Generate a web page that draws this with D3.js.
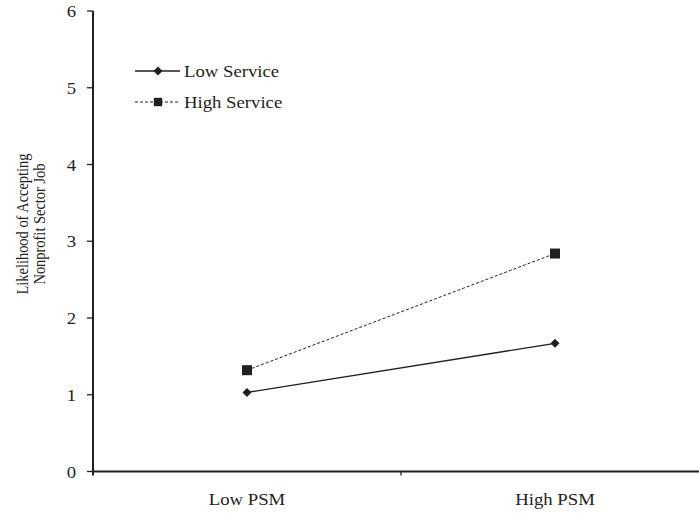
<!DOCTYPE html>
<html><head><meta charset="utf-8">
<script src="https://cdn.jsdelivr.net/npm/d3@7"></script>
<style>body{margin:0;background:#fff}</style>
</head><body>
<svg id="c" width="699" height="514"></svg>
<script>
const categories = ["Low PSM", "High PSM"];
const lowService = [1.03, 1.67];
const highService = [1.32, 2.84];
const yTicks = [0, 1, 2, 3, 4, 5, 6];
const seriesNames = ["Low Service", "High Service"];
const yLabelLines = ["Likelihood of Accepting", "Nonprofit Sector Job"];

const svg = d3.select("#c");
const font = "'Liberation Serif', 'Times New Roman', serif";
const col = "#231f20";
const fs = 17.5, sx = 1.07;
const x0 = 93, x1 = 709, yTop = 11, yBot = 471.5;
const x = d3.scaleBand().domain(categories).range([x0, x1]);
const y = d3.scaleLinear().domain([0, 6]).range([yBot, yTop]);

function htext(px, py, anchor, str) {
  return svg.append("text").attr("transform", `translate(${px},${py}) scale(${sx},1)`)
    .attr("text-anchor", anchor).attr("font-family", font).attr("font-size", fs)
    .attr("fill", col).text(str);
}

// y axis
svg.append("line").attr("x1", x0).attr("x2", x0).attr("y1", y(6)).attr("y2", y(0) + 4)
  .attr("stroke", col).attr("stroke-width", 2);
yTicks.forEach(t => {
  svg.append("line").attr("x1", x0 - 6).attr("x2", x0).attr("y1", y(t)).attr("y2", y(t))
    .attr("stroke", col).attr("stroke-width", 1.3);
  htext(76, y(t), "end", t).attr("dy", "0.35em");
});
// x axis
svg.append("line").attr("x1", x0).attr("x2", 699).attr("y1", y(0)).attr("y2", y(0))
  .attr("stroke", col).attr("stroke-width", 2);
svg.append("line").attr("x1", x(categories[1])).attr("x2", x(categories[1])).attr("y1", y(0)).attr("y2", y(0) + 4)
  .attr("stroke", col).attr("stroke-width", 1.3);
categories.forEach(c => htext(x(c) + x.bandwidth() / 2, 505, "middle", c));

// y label
const yl = svg.append("text").attr("transform", "translate(0,224) rotate(-90) scale(0.875,1)")
  .attr("text-anchor", "middle").attr("font-family", font).attr("font-size", 16.5).attr("fill", col);
yLabelLines.forEach((l, i) => yl.append("tspan").attr("x", 0).attr("y", 28 + i * 17.5).text(l));

const cx = c => x(c) + x.bandwidth() / 2;
const line = d3.line().x((d, i) => cx(categories[i])).y(d => y(d));
svg.append("path").datum(highService).attr("d", line).attr("fill", "none").attr("stroke", col)
  .attr("stroke-width", 1).attr("stroke-dasharray", "3,2");
svg.append("path").datum(lowService).attr("d", line).attr("fill", "none").attr("stroke", col)
  .attr("stroke-width", 1.3);
const diamond = d3.symbol().type(d3.symbolSquare).size(40);
const square = d3.symbol().type(d3.symbolSquare).size(100);
lowService.forEach((v, i) => svg.append("path").attr("d", diamond)
  .attr("transform", `translate(${cx(categories[i])},${y(v)}) rotate(45)`).attr("fill", col));
highService.forEach((v, i) => svg.append("path").attr("d", square)
  .attr("transform", `translate(${cx(categories[i])},${y(v)})`).attr("fill", col));

// legend
const legY = [71, 102];
svg.append("line").attr("x1", 135).attr("x2", 180).attr("y1", legY[0]).attr("y2", legY[0]).attr("stroke", col).attr("stroke-width", 1.3);
svg.append("path").attr("d", diamond).attr("transform", `translate(158,${legY[0]}) rotate(45)`).attr("fill", col);
svg.append("line").attr("x1", 135).attr("x2", 180).attr("y1", legY[1]).attr("y2", legY[1]).attr("stroke", col).attr("stroke-width", 1).attr("stroke-dasharray", "3,2");
svg.append("path").attr("d", d3.symbol().type(d3.symbolSquare).size(70)).attr("transform", `translate(158,${legY[1]})`).attr("fill", col);
seriesNames.forEach((n, i) => htext(184, legY[i], "start", n).attr("dy", "0.35em"));
</script>
</body></html>
